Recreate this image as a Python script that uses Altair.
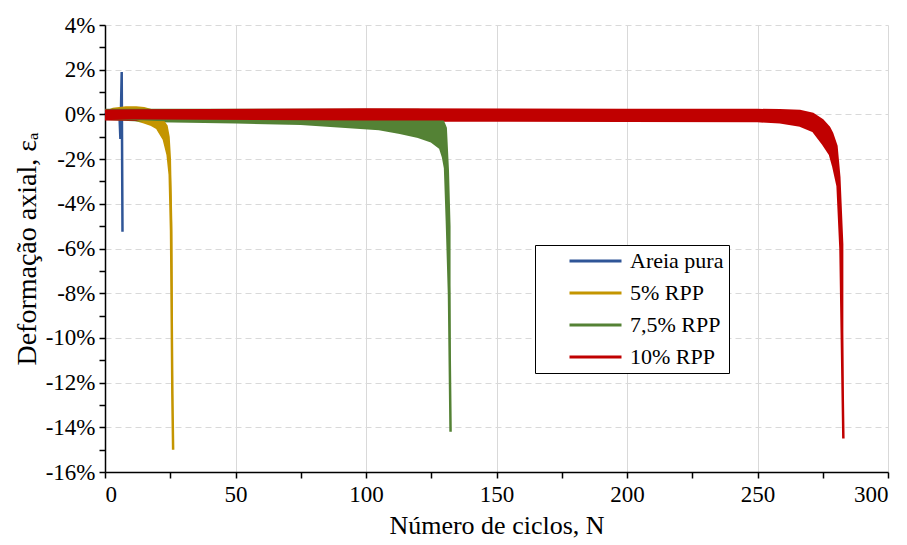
import altair as alt
import pandas as pd

series_names = ["Areia pura", "5% RPP", "7,5% RPP", "10% RPP"]
series_colors = ["#2F5597", "#C49500", "#548235", "#C00000"]

# Areia pura (line)
blue_n = [0, 1.5, 3, 4.5, 5.5, 5.9, 6.4, 6.7]
blue_v = [0.0, 0.15, -0.1, 0.15, 0.1, -1.1, 1.9, -5.25]

# 5% RPP (envelope of cyclic response)
yellow_n = [0, 3, 8, 12, 15, 17.5, 20, 22.5, 24, 24.8, 25.3, 25.8, 26.1]
yellow_up = [0.15, 0.3, 0.37, 0.37, 0.33, 0.25, 0.0, -0.25, -0.5, -1.0, -2.0, -4.8, -12.5]
yellow_lo = [-0.15, -0.12, -0.15, -0.25, -0.35, -0.45, -0.62, -1.1, -1.8, -2.7, -5.2, -12.5, -15.0]

# 7,5% RPP
green_n = [0, 20, 50, 75, 95, 105, 113, 120, 125, 128.4, 129.5, 130.3, 131.0, 131.8, 132.4]
green_up = [0.25, 0.25, 0.25, 0.25, 0.25, 0.25, 0.25, 0.25, 0.2, 0.1, -0.2, -0.4, -0.6, -2.5, -5.0]
green_lo = [-0.2, -0.3, -0.35, -0.42, -0.57, -0.65, -0.82, -1.0, -1.2, -1.5, -1.9, -2.4, -4.8, -8.0, -14.2]

# 10% RPP
red_n = [0, 100, 200, 250, 258.6, 266.3, 271.4, 275.2, 277.8, 279.0, 280.7, 281.8, 282.9]
red_up = [0.22, 0.27, 0.25, 0.25, 0.24, 0.21, 0.07, -0.22, -0.55, -0.82, -1.4, -2.8, -5.8]
red_lo = [-0.22, -0.27, -0.28, -0.3, -0.35, -0.5, -0.75, -1.34, -1.8, -2.3, -3.2, -6.0, -14.5]

x_ticks = list(range(0, 301, 25))
y_ticks = list(range(-16, 5, 1))

FONT = "Liberation Serif"

# line table (legend carrier): Areia pura line + lower envelopes of the others
rows = []
for i, (n, v) in enumerate(zip(blue_n, blue_v)):
    rows.append({"serie": series_names[0], "N": n, "v": v, "i": i})
for name, ns, los in [(series_names[1], yellow_n, yellow_lo),
                      (series_names[2], green_n, green_lo),
                      (series_names[3], red_n, red_lo)]:
    for i, (n, v) in enumerate(zip(ns, los)):
        rows.append({"serie": name, "N": n, "v": v, "i": i})
line_df = pd.DataFrame(rows)


def band(ns, ups, los):
    return pd.DataFrame({"N": ns, "v": ups, "lo": los})


x_enc = alt.X(
    "N:Q",
    scale=alt.Scale(domain=[0, 300], nice=False, zero=False),
    axis=alt.Axis(
        values=x_ticks,
        labelExpr="datum.value % 50 == 0 ? datum.label : ''",
        title="Número de ciclos, N",
        gridColor="#D9D9D9",
        gridWidth=1,
        gridOpacity={"condition": {"test": "datum.value % 50 == 0", "value": 1}, "value": 0},
        labelFont=FONT,
        labelFontSize=23,
        labelPadding=5,
        titlePadding=6,
        titleFontSize=26,
    ),
)
y_enc = alt.Y(
    "v:Q",
    scale=alt.Scale(domain=[-16, 4], nice=False, zero=False),
    axis=alt.Axis(
        values=y_ticks,
        labelExpr="datum.value % 2 == 0 ? datum.value + '%' : ''",
        title="Deformação axial, εₐ",
        gridColor="#D9D9D9",
        gridWidth=1,
        gridDash=[6, 4],
        gridOpacity={"condition": {"test": "datum.value % 2 == 0", "value": 1}, "value": 0},
        labelFont=FONT,
        labelFontSize=23,
        labelPadding=4,
        titlePadding=4,
        titleFontSize=28,
    ),
)

lines = alt.Chart(line_df).mark_line(strokeWidth=2.5).encode(
    x=x_enc,
    y=y_enc,
    order="i:Q",
    stroke=alt.Stroke(
        "serie:N",
        scale=alt.Scale(domain=series_names, range=series_colors),
        legend=alt.Legend(
            orient="none",
            legendX=430,
            legendY=220,
            title=None,
            symbolType="stroke",
            symbolSize=2704,
            symbolStrokeWidth=3,
            clipHeight=22,
            rowPadding=10,
            padding=5,
            symbolOffset=28,
            labelOffset=7,
            labelFont=FONT,
            labelFontSize=22,
            labelColor="black",
            strokeColor="black",
            fillColor="white",
            cornerRadius=0,
        ),
    ),
)


def area_layer(df, color):
    return alt.Chart(df).mark_area(color=color, opacity=1).encode(
        x=x_enc, y=y_enc, y2="lo:Q"
    )


chart = alt.layer(
    lines,
    area_layer(band(yellow_n, yellow_up, yellow_lo), series_colors[1]),
    area_layer(band(green_n, green_up, green_lo), series_colors[2]),
    area_layer(band(red_n, red_up, red_lo), series_colors[3]),
).properties(
    width=783,
    height=447,
    padding={"left": 97, "top": 17, "right": 11, "bottom": 70},
    autosize=alt.AutoSizeParams(type="none"),
).configure_view(stroke=None).configure_axis(
    domainColor="black",
    domainWidth=1.5,
    tickColor="black",
    tickWidth=1.5,
    tickSize=6,
    labelColor="black",
    titleFont=FONT,
    titleFontWeight="normal",
    titleColor="black",
)

chart.save("out.html", embed_options={"renderer": "svg", "actions": False})
